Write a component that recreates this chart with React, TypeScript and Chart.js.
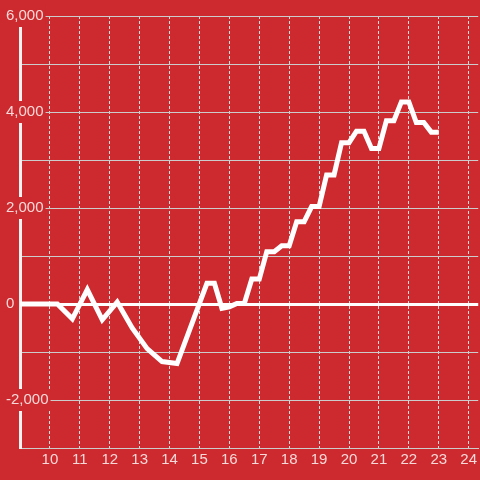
import React, { useEffect, useRef } from 'react';
import { Chart, registerables } from 'chart.js';

Chart.register(...registerables);

// Hours of the day (x) and running value (y)
const hours = [
  9, 10.25, 10.75, 11.25, 11.75, 12.25, 12.75, 13.25, 13.75, 14.25,
  15.25, 15.5, 15.75, 16, 16.25, 16.5, 16.75, 17, 17.25, 17.5,
  17.75, 18, 18.25, 18.5, 18.75, 19, 19.25, 19.5, 19.75, 20,
  20.25, 20.5, 20.75, 21, 21.25, 21.5, 21.75, 22, 22.25, 22.5,
  22.75, 23,
];
const values = [
  0, 0, -310, 300, -330, 40, -500, -930, -1200, -1240,
  430, 430, -90, -60, 10, 10, 520, 520, 1090, 1090,
  1215, 1215, 1715, 1715, 2030, 2030, 2690, 2690, 3360, 3360,
  3600, 3600, 3240, 3240, 3820, 3820, 4210, 4210, 3780, 3780,
  3580, 3580,
];
const xTickValues = [10, 11, 12, 13, 14, 15, 16, 17, 18, 19, 20, 21, 22, 23, 24];
const yLabelledValues = [6000, 4000, 2000, 0, -2000];

const BG = '#cc2a2e';
const LABEL = 'rgba(255,255,255,0.82)';
const FONT = { family: '"Liberation Sans", Arial, sans-serif', size: 15 };

export default function App() {
  const ref = useRef<HTMLCanvasElement>(null);

  useEffect(() => {
    document.body.style.margin = '0';
    document.body.style.background = BG;
    const canvas = ref.current!;
    const chart = new Chart(canvas, {
      type: 'line',
      data: {
        datasets: [
          {
            data: hours.map((h, i) => ({ x: h, y: values[i] })),
            borderColor: '#ffffff',
            borderWidth: 5,
            pointRadius: 0,
            tension: 0,
            fill: false,
          },
        ],
      },
      options: {
        animation: false,
        responsive: false,
        layout: { padding: { top: 16, left: 0, right: 0, bottom: 0 } },
        plugins: { legend: { display: false }, tooltip: { enabled: false } },
        scales: {
          x: {
            type: 'linear',
            min: 9,
            max: 24.32,
            afterBuildTicks: (s: any) => {
              s.ticks = xTickValues.map((v) => ({ value: v }));
            },
            afterFit: (s: any) => {
              s.height = 32;
            },
            grid: { color: '#dddddd', lineWidth: 1, drawTicks: false },
            border: { display: true, color: '#cccccc', width: 1, dash: [3, 2] },
            ticks: {
              color: LABEL,
              font: FONT,
              padding: 3,
              autoSkip: false,
              maxRotation: 0,
            },
          },
          y: {
            type: 'linear',
            min: -3000,
            max: 6000,
            afterFit: (s: any) => {
              s.width = 20;
            },
            ticks: {
              stepSize: 1000,
              callback: (v: any) =>
                yLabelledValues.includes(Number(v)) ? Number(v).toLocaleString('en-US') : '',
              mirror: true,
              padding: -14,
              showLabelBackdrop: true,
              backdropColor: BG,
              backdropPadding: 2,
              color: LABEL,
              font: FONT,
            },
            grid: {
              color: (ctx: any) => (ctx.tick && ctx.tick.value === 0 ? '#ffffff' : '#cccccc'),
              lineWidth: (ctx: any) => (ctx.tick && ctx.tick.value === 0 ? 3 : 1),
              drawTicks: false,
            },
            border: { display: true, color: '#f2f2f2', width: 3 },
          },
        },
      },
    });
    return () => chart.destroy();
  }, []);

  return (
    <canvas
      ref={ref}
      width={480}
      height={480}
      style={{ display: 'block', width: 480, height: 480, background: BG }}
    />
  );
}
